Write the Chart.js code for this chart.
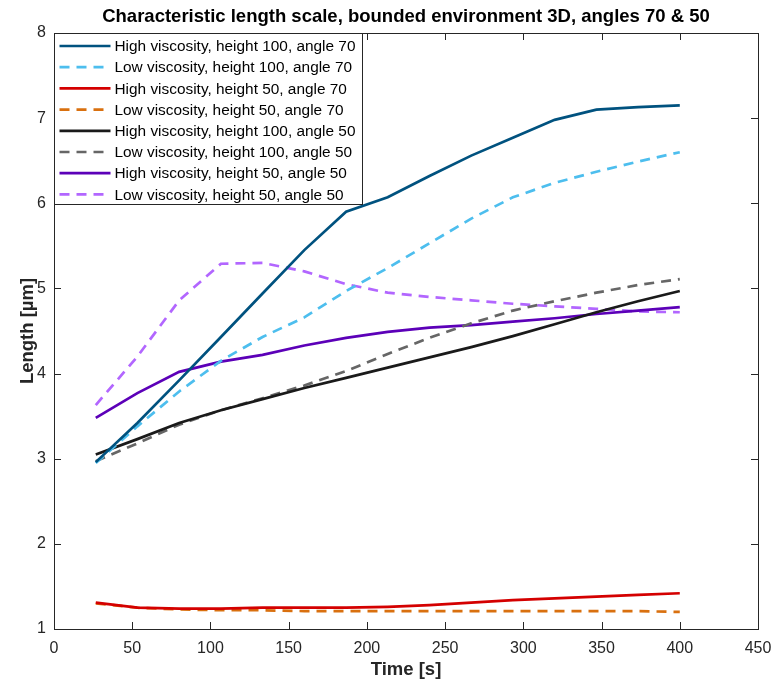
<!DOCTYPE html>
<html>
<head>
<meta charset="utf-8">
<script src="https://cdn.jsdelivr.net/npm/chart.js@4"></script>
<style>
  html, body { margin: 0; padding: 0; background: #fff; }
  #wrap { width: 776px; height: 686px; }
</style>
</head>
<body>
<div id="wrap"><canvas id="lengthChart" width="776" height="686"></canvas></div>
<script>
// time samples [s]
const times = [26.7, 53.3, 80, 106.7, 133.3, 160, 186.7, 213.3, 240, 266.7, 293.3, 320, 346.7, 373.3, 400];

// characteristic length [um]
const highVisc100a70 = [2.96, 3.42, 3.92, 4.43, 4.94, 5.45, 5.90, 6.07, 6.32, 6.56, 6.77, 6.98, 7.10, 7.13, 7.15];
const lowVisc100a70  = [2.95, 3.38, 3.79, 4.15, 4.43, 4.66, 4.97, 5.24, 5.53, 5.82, 6.07, 6.24, 6.37, 6.49, 6.60];
const highVisc50a70  = [1.31, 1.25, 1.24, 1.24, 1.25, 1.25, 1.25, 1.26, 1.28, 1.31, 1.34, 1.36, 1.38, 1.40, 1.42];
const lowVisc50a70   = [1.30, 1.25, 1.23, 1.22, 1.22, 1.21, 1.21, 1.21, 1.21, 1.21, 1.21, 1.21, 1.21, 1.21, 1.20];
const highVisc100a50 = [3.05, 3.23, 3.42, 3.57, 3.70, 3.83, 3.95, 4.07, 4.19, 4.31, 4.44, 4.58, 4.72, 4.85, 4.97];
const lowVisc100a50  = [2.97, 3.18, 3.40, 3.57, 3.71, 3.86, 4.03, 4.23, 4.42, 4.59, 4.74, 4.85, 4.95, 5.04, 5.11];
const highVisc50a50  = [3.48, 3.77, 4.02, 4.14, 4.22, 4.33, 4.42, 4.49, 4.54, 4.57, 4.61, 4.65, 4.70, 4.74, 4.78];
const lowVisc50a50   = [3.63, 4.20, 4.86, 5.29, 5.30, 5.20, 5.05, 4.95, 4.90, 4.86, 4.82, 4.79, 4.76, 4.73, 4.72];

const seriesLabels = [
  'High viscosity, height 100, angle 70',
  'Low viscosity, height 100, angle 70',
  'High viscosity, height 50, angle 70',
  'Low viscosity, height 50, angle 70',
  'High viscosity, height 100, angle 50',
  'Low viscosity, height 100, angle 50',
  'High viscosity, height 50, angle 50',
  'Low viscosity, height 50, angle 50'
];
const seriesValues = [highVisc100a70, lowVisc100a70, highVisc50a70, lowVisc50a70,
                      highVisc100a50, lowVisc100a50, highVisc50a50, lowVisc50a50];
const seriesColors = ['#00527f', '#4dbeee', '#d40000', '#d9700f',
                      '#1a1a1a', '#666666', '#5c00b8', '#b266ff'];
const seriesDashed = [false, true, false, true, false, true, false, true];

const xTicks = [0, 50, 100, 150, 200, 250, 300, 350, 400, 450];
const yTicks = [1, 2, 3, 4, 5, 6, 7, 8];

const FONT = "'Liberation Sans', Arial, Helvetica, sans-serif";
const AXIS_COLOR = '#262626';
const DASH = [10, 7];

const datasets = seriesLabels.map(function(label, i) {
  return {
    label: label,
    data: times.map(function(t, j) { return { x: t, y: seriesValues[i][j] }; }),
    borderColor: seriesColors[i],
    backgroundColor: seriesColors[i],
    borderWidth: 2.7,
    borderDash: seriesDashed[i] ? DASH : [],
    pointRadius: 0,
    tension: 0,
    fill: false
  };
});

// box, inward ticks on all four sides, title and the legend inside the axes
const matlabLook = {
  id: 'matlabLook',
  afterDraw: function(chart) {
    const ctx = chart.ctx;
    const a = chart.chartArea;
    const xs = chart.scales.x, ys = chart.scales.y;
    const tl = 7;
    ctx.save();
    ctx.strokeStyle = AXIS_COLOR;
    ctx.lineWidth = 1;
    ctx.beginPath();
    xTicks.forEach(function(v) {
      const px = Math.round(xs.getPixelForValue(v)) + 0.5;
      ctx.moveTo(px, a.bottom); ctx.lineTo(px, a.bottom - tl);
      ctx.moveTo(px, a.top); ctx.lineTo(px, a.top + tl);
    });
    yTicks.forEach(function(v) {
      const py = Math.round(ys.getPixelForValue(v)) + 0.5;
      ctx.moveTo(a.left, py); ctx.lineTo(a.left + tl, py);
      ctx.moveTo(a.right, py); ctx.lineTo(a.right - tl, py);
    });
    ctx.stroke();
    ctx.strokeRect(Math.round(a.left) + 0.5, Math.round(a.top) + 0.5,
                   Math.round(a.right - a.left), Math.round(a.bottom - a.top));

    // title
    ctx.fillStyle = '#000';
    ctx.font = 'bold 18.5px ' + FONT;
    ctx.textAlign = 'center';
    ctx.textBaseline = 'middle';
    ctx.fillText('Characteristic length scale, bounded environment 3D, angles 70 & 50',
                 (a.left + a.right) / 2, 17);

    // legend
    const lx = Math.round(a.left) + 0.5, ly = Math.round(a.top) + 0.5;
    const lw = 308, lh = 171, rowH = 21.2;
    ctx.fillStyle = '#fff';
    ctx.fillRect(lx, ly, lw, lh);
    ctx.strokeStyle = AXIS_COLOR;
    ctx.strokeRect(lx, ly, lw, lh);
    ctx.font = '15.4px ' + FONT;
    ctx.textAlign = 'left';
    chart.data.datasets.forEach(function(ds, i) {
      const cy = ly + 12.5 + i * rowH;
      ctx.strokeStyle = ds.borderColor;
      ctx.lineWidth = ds.borderWidth;
      ctx.setLineDash(ds.borderDash);
      ctx.beginPath();
      ctx.moveTo(lx + 5, cy);
      ctx.lineTo(lx + 56, cy);
      ctx.stroke();
      ctx.setLineDash([]);
      ctx.fillStyle = '#000';
      ctx.fillText(ds.label, lx + 60, cy + 1);
    });
    ctx.restore();
  }
};

new Chart(document.getElementById('lengthChart').getContext('2d'), {
  type: 'line',
  data: { datasets: datasets },
  options: {
    responsive: false,
    animation: false,
    layout: { padding: { top: 33, right: 18, left: 0, bottom: 0 } },
    plugins: {
      legend: { display: false },
      title: { display: false },
      tooltip: { enabled: false }
    },
    scales: {
      x: {
        type: 'linear',
        min: 0, max: 450,
        afterFit: function(scale) {
          scale.height = 57;
          scale.paddingLeft = 0;
          scale.paddingRight = 0;
        },
        afterBuildTicks: function(scale) { scale.ticks = xTicks.map(function(v) { return { value: v }; }); },
        grid: { display: true, drawOnChartArea: false, drawTicks: false },
        border: { display: true, color: AXIS_COLOR, width: 1 },
        ticks: { color: AXIS_COLOR, font: { family: FONT, size: 16 }, padding: 10, maxRotation: 0 },
        title: { display: true, text: 'Time [s]', color: AXIS_COLOR,
                 font: { family: FONT, size: 18.5, weight: 'bold' }, padding: { top: 0, bottom: 5 } }
      },
      y: {
        type: 'linear',
        min: 1, max: 8,
        afterFit: function(scale) {
          scale.width = 54;
          scale.paddingTop = 0;
          scale.paddingBottom = 0;
        },
        afterBuildTicks: function(scale) { scale.ticks = yTicks.map(function(v) { return { value: v }; }); },
        grid: { display: true, drawOnChartArea: false, drawTicks: false },
        border: { display: true, color: AXIS_COLOR, width: 1 },
        ticks: { color: AXIS_COLOR, font: { family: FONT, size: 16 }, padding: 8 },
        title: { display: true, text: 'Length [µm]', color: AXIS_COLOR,
                 font: { family: FONT, size: 18.5, weight: 'bold' }, padding: { top: 17, bottom: 0 } }
      }
    }
  },
  plugins: [matlabLook]
});
</script>
</body>
</html>
